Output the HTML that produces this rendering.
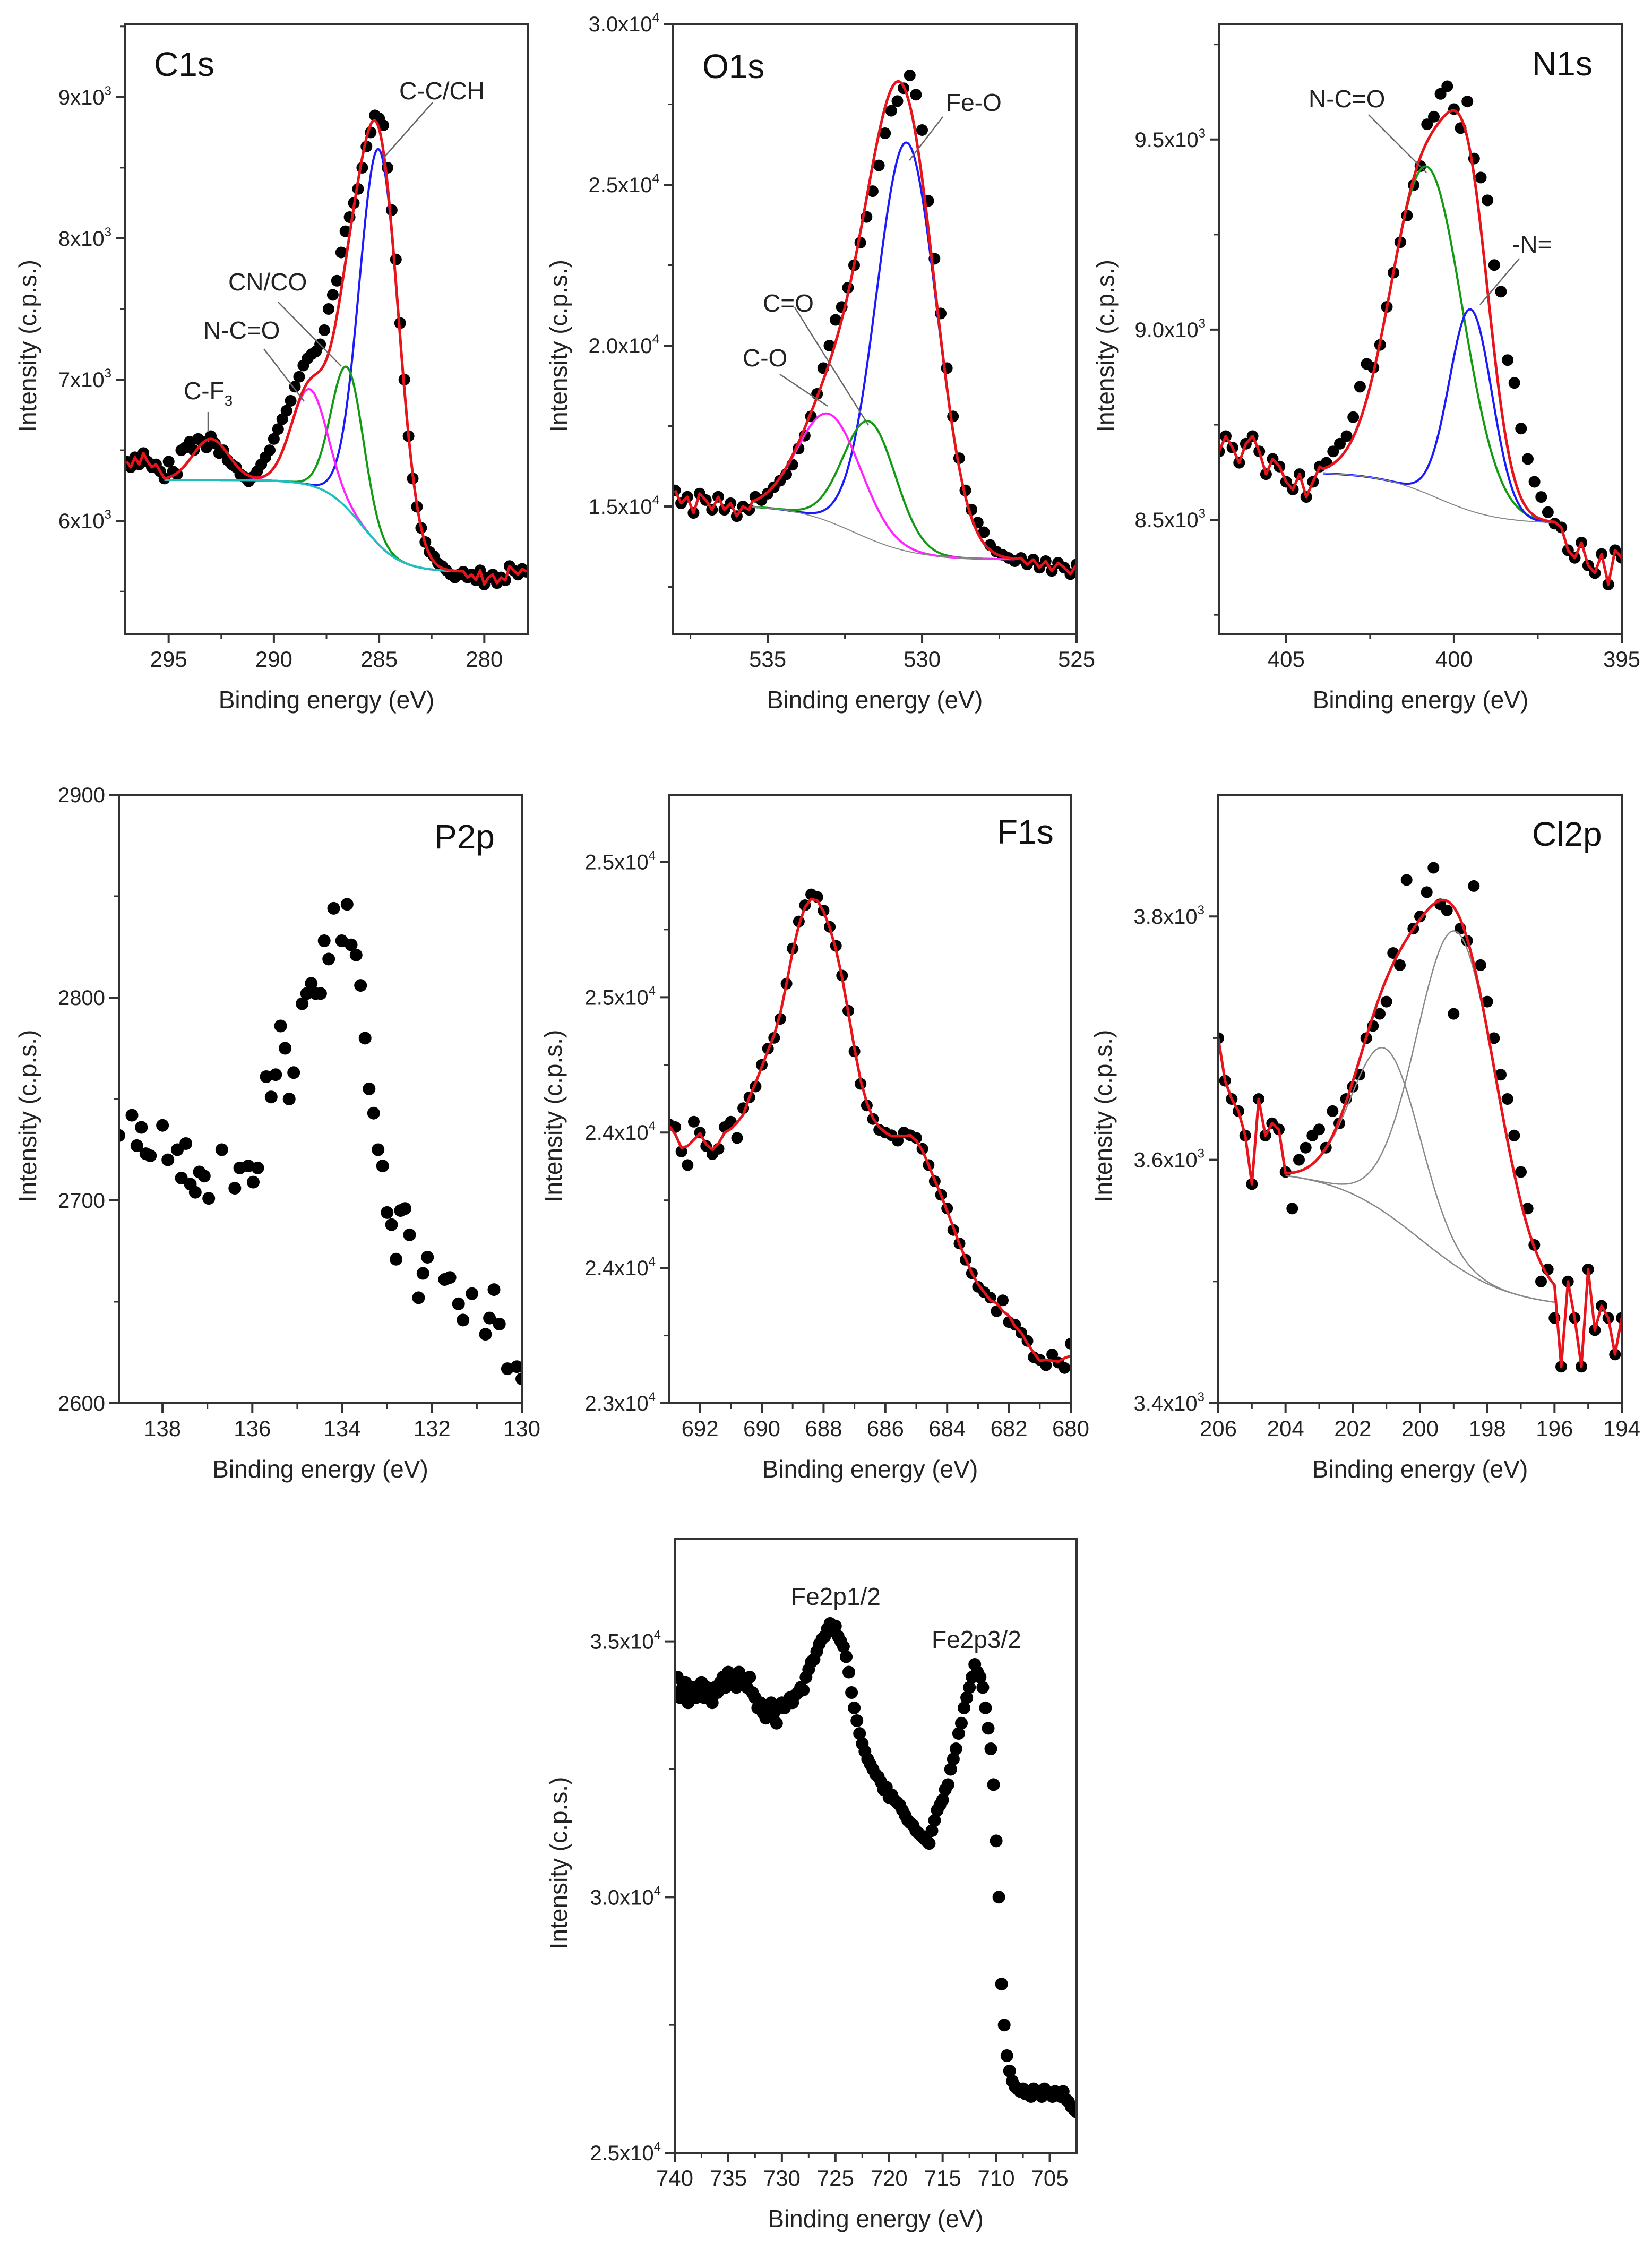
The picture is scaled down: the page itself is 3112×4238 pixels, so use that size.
<!DOCTYPE html>
<html>
<head>
<meta charset="utf-8">
<style>
html,body{margin:0;padding:0;background:#fff;}
svg{display:block;font-family:"Liberation Sans",Arial,sans-serif;}
</style>
</head>
<body>
<svg id="chart" xmlns="http://www.w3.org/2000/svg" width="3112" height="4238" viewBox="0 0 3112 4238">
<rect x="0" y="0" width="3112" height="4238" fill="#fff"/>
</svg>
<script>
// ===================== DATA =====================
// C1s
const c1sStart = 297.0, c1sStep = -0.2;
const c1sCounts = [6420,6380,6450,6400,6480,6420,6380,6400,6350,6300,6420,
6350,6330,6500,6520,6560,6500,6580,6560,6520,6600,
6550,6480,6500,6430,6400,6380,6330,6310,6280,6310,
6350,6400,6450,6500,6580,6650,6720,6780,6850,6950,
7020,7100,7150,7180,7200,7250,7350,7500,7600,7700,
7900,8050,8150,8250,8350,8500,8650,8750,8870,8850,
8800,8500,8200,7850,7400,7000,6600,6300,6100,5950,
5850,5780,5750,5700,5680,5650,5620,5600,5620,5640,
5600,5620,5580,5650,5550,5600,5620,5560,5600,5580,
5680,5650,5620,5660,5640];
const c1sPeakCenters = [285.0, 286.5, 288.3, 293.0];
const c1sPeakHeights = [2800, 1000, 680, 290];
const c1sPeakFwhm = [2.2, 1.8, 2.0, 2.0];
const c1sBackground = [5640, 6290, 285.8, 0.9];
const c1sFitRange = [295.2, 281.0];
const c1sXTicks = [295, 290, 285, 280];
const c1sYTicks = [6000, 7000, 8000, 9000];
const c1sYLabels = ["6x10^3","7x10^3","8x10^3","9x10^3"];

// O1s
const o1sStart = 538.0, o1sStep = -0.2;
const o1sCounts = [15500,15100,15300,14800,15400,15200,14900,15300,14900,15100,14700,
15000,14900,15300,15200,15400,15600,15800,16000,16300,16800,
17200,17800,18500,19300,20000,20800,21200,21800,22500,23200,
24000,24800,25600,26600,27300,27600,28000,28400,27800,26700,
24500,22700,21000,19300,17800,16500,15500,14900,14500,14200,
13800,13600,13500,13400,13300,13400,13200,13350,13100,13300,
13000,13250,13100,12900,13200];
const o1sPeakCenters = [530.5, 531.7, 533.0];
const o1sPeakHeights = [12700, 3650, 3350];
const o1sPeakFwhm = [2.3, 2.0, 2.4];
const o1sBackground = [13350, 15050, 532.2, 1.0];
const o1sFitRange = [535.5, 527.0];
const o1sXTicks = [535, 530, 525];
const o1sYTicks = [15000, 20000, 25000, 30000];
const o1sYLabels = ["1.5x10^4","2.0x10^4","2.5x10^4","3.0x10^4"];

// N1s
const n1sStart = 407.0, n1sStep = -0.2;
const n1sCounts = [8680,8720,8690,8650,8700,8720,8680,8620,8660,8640,8600,
8580,8620,8560,8600,8640,8650,8680,8700,8720,8770,
8850,8910,8900,8960,9060,9150,9230,9300,9380,9430,
9540,9560,9620,9640,9580,9530,9600,9450,9400,9340,
9170,9100,8920,8860,8740,8660,8600,8560,8520,8490,
8480,8420,8400,8440,8380,8360,8410,8330,8420,8400];
const n1sPeakCenters = [400.8, 399.5];
const n1sPeakHeights = [860, 530];
const n1sPeakFwhm = [2.5, 1.5];
const n1sBackground = [8490, 8625, 400.5, 0.9];
const n1sFitRange = [403.9, 397.0];
const n1sXTicks = [405, 400, 395];
const n1sYTicks = [8500, 9000, 9500];
const n1sYLabels = ["8.5x10^3","9.0x10^3","9.5x10^3"];

// P2p
const p2pEnergy = [138.97,138.68,138.57,138.47,138.37,138.27,138.0,137.88,137.67,137.58,137.48,137.38,137.27,137.18,137.07,136.97,136.68,136.39,136.28,136.09,135.98,135.88,135.69,135.58,135.48,135.37,135.27,135.18,135.08,134.89,134.79,134.69,134.59,134.48,134.4,134.3,134.19,134.01,133.89,133.8,133.69,133.59,133.49,133.4,133.3,133.2,133.1,133.0,132.9,132.8,132.7,132.6,132.5,132.3,132.2,132.1,131.72,131.6,131.41,131.31,131.11,130.81,130.72,130.62,130.5,130.32,130.11,130.0];
const p2pCounts = [2732,2742,2727,2736,2723,2722,2737,2720,2725,2711,2728,2708,2704,2714,2712,2701,2725,2706,2716,2717,2709,2716,2761,2751,2762,2786,2775,2750,2763,2797,2802,2807,2802,2802,2828,2819,2844,2828,2846,2826,2821,2806,2780,2755,2743,2725,2717,2694,2688,2671,2695,2696,2683,2652,2664,2672,2661,2662,2649,2641,2654,2634,2642,2656,2639,2617,2618,2612];
const p2pXTicks = [138, 136, 134, 132, 130];
const p2pYTicks = [2600, 2700, 2800, 2900];
const p2pYLabels = ["2600","2700","2800","2900"];

// F1s
const f1sStart = 693.0, f1sStep = -0.2;
const f1sCounts = [24030,24020,23930,23880,24040,24000,23950,23920,23940,24020,24040,
23980,24090,24130,24170,24250,24310,24350,24420,24550,24680,
24780,24840,24880,24870,24820,24760,24690,24580,24450,24300,
24180,24100,24050,24010,24000,23990,23970,24000,23990,23980,
23940,23880,23820,23770,23720,23640,23590,23530,23480,23430,
23410,23390,23340,23380,23300,23290,23260,23230,23170,23160,
23140,23180,23150,23130,23220];
const f1sXTicks = [692, 690, 688, 686, 684, 682, 680];
const f1sYTicks = [23000, 23500, 24000, 24500, 25000];
const f1sYLabels = ["2.3x10^4","2.4x10^4","2.4x10^4","2.5x10^4","2.5x10^4"];

// Cl2p
const cl2pStart = 206.0, cl2pStep = -0.2;
const cl2pCounts = [3700,3665,3650,3640,3620,3580,3650,3620,3630,3625,3590,
3560,3600,3610,3620,3625,3610,3640,3630,3650,3660,
3670,3700,3710,3720,3730,3770,3760,3830,3790,3800,
3820,3840,3810,3805,3720,3790,3780,3825,3760,3730,
3700,3670,3650,3620,3590,3560,3530,3500,3510,3470,
3430,3500,3470,3430,3510,3460,3480,3470,3440,3470];
const cl2pPeakCenters = [201.0, 198.9];
const cl2pPeakHeights = [135, 275];
const cl2pPeakFwhm = [2.4, 2.8];
const cl2pBackground = [3478, 3592, 200.0, 1.3];
const cl2pFitRange = [204.0, 196.0];
const cl2pXTicks = [206, 204, 202, 200, 198, 196, 194];
const cl2pYTicks = [3400, 3600, 3800];
const cl2pYLabels = ["3.4x10^3","3.6x10^3","3.8x10^3"];

// Fe2p
const feStart = 740.0, feStep = -0.25;
const feCounts = [34000,34300,33900,34100,34200,33800,34000,34100,33900,34000,
34200,33900,34100,34000,33800,34100,34000,34200,34300,34100,
34400,34200,34300,34100,34400,34300,34200,34100,34300,34000,
33900,33700,33800,33600,33500,33700,33800,33600,33400,33700,33800,
33700,33800,33900,33800,33950,34000,34100,34050,34300,34450,
34600,34650,34800,34950,35050,35100,35250,35350,35200,35300,
35100,35000,34900,34700,34400,34000,33700,33450,33200,33000,
32850,32700,32600,32500,32400,32350,32250,32100,32150,31950,
32000,31900,31850,31800,31700,31600,31500,31450,31400,31300,
31250,31200,31150,31100,31050,31300,31500,31700,31800,31900,
32100,32200,32500,32700,32900,33200,33400,33700,33900,34100,
34300,34550,34400,34300,34100,33700,33300,32900,32200,31100,
30000,28300,27500,26900,26600,26400,26300,26250,26200,26250,
26150,26200,26100,26250,26150,26200,26100,26250,26200,26150,
26100,26200,26150,26100,26200,26050,26000,25900,25850,25800];
const feXTicks = [740, 735, 730, 725, 720, 715, 710, 705];
const feYTicks = [25000, 30000, 35000];
const feYLabels = ["2.5x10^4","3.0x10^4","3.5x10^4"];

// ===================== DRAWING =====================
const NS = 'http://www.w3.org/2000/svg';
const svg = document.getElementById('chart');
function mk(tag, parent) { const e = document.createElementNS(NS, tag); parent.appendChild(e); return e; }
function gauss(x, c, h, f) { return h * Math.exp(-4 * Math.LN2 * (x - c) * (x - c) / (f * f)); }
function sigBg(x, p) { return p[0] + (p[1] - p[0]) / (1 + Math.exp(-(x - p[2]) / p[3])); }
function energies(start, step, n) { const a = []; for (let i = 0; i < n; i++) a.push(+(start + step * i).toFixed(3)); return a; }

let clipId = 0;
function makePanel(cfg) {
  const g = mk('g', svg);
  
  
  const [l, r, t, b] = cfg.box;
  const sx = x => l + (cfg.xr[0] - x) / (cfg.xr[0] - cfg.xr[1]) * (r - l);
  const sy = y => b - (y - cfg.yr[0]) / (cfg.yr[1] - cfg.yr[0]) * (b - t);
  const cp = mk('clipPath', g); cp.setAttribute('id', 'clip' + (++clipId));
  const cr = mk('rect', cp); cr.setAttribute('x', l); cr.setAttribute('y', t); cr.setAttribute('width', r - l); cr.setAttribute('height', b - t);
  const plot = mk('g', g); plot.setAttribute('clip-path', 'url(#clip' + clipId + ')');
  
  
  const ax = mk('g', g);
  
  
  function line(x1, y1, x2, y2, col, w, parent) {
    const ln = mk('line', parent); ln.setAttribute('x1', x1); ln.setAttribute('y1', y1); ln.setAttribute('x2', x2); ln.setAttribute('y2', y2);
    ln.setAttribute('stroke', col); ln.setAttribute('stroke-width', w); return ln;
  }
  const xt = cfg.xTicks, xs = xt[1] - xt[0];
  for (let i = 0; i < xt.length; i++) {
    const X = sx(xt[i]);
    const tk = line(X, b, X, b + 18, '#333', 4, ax);
    
    
    const tx = mk('text', ax); tx.setAttribute('x', X); tx.setAttribute('y', b + 62); tx.setAttribute('font-size', 42); tx.setAttribute('text-anchor', 'middle'); tx.setAttribute('fill', '#222');
    tx.textContent = xt[i];
    
    
  }
  for (let i = -1; i < xt.length; i++) {
    const v = xt[0] + xs * (i + 0.5);
    const lo = Math.min(cfg.xr[0], cfg.xr[1]), hi = Math.max(cfg.xr[0], cfg.xr[1]);
    if (v > lo && v < hi) line(sx(v), b, sx(v), b + 10, '#333', 3, ax);
  }
  const yt = cfg.yTicks, ys = yt[1] - yt[0];
  for (let i = 0; i < yt.length; i++) {
    const Y = sy(yt[i]);
    const tk = line(l - 18, Y, l, Y, '#333', 4, ax);
    
    
    const parts = cfg.yLabels[i].split('^');
    const tx = mk('text', ax); tx.setAttribute('x', l - 26); tx.setAttribute('y', Y + 14); tx.setAttribute('font-size', 40); tx.setAttribute('text-anchor', 'end'); tx.setAttribute('fill', '#222');
    
    
    const t1 = mk('tspan', tx); t1.textContent = parts[0];
    if (parts[1]) { const t2 = mk('tspan', tx); t2.setAttribute('font-size', 24); t2.setAttribute('dy', -18); t2.textContent = parts[1]; }
  }
  for (let i = -1; i < yt.length; i++) {
    const v = yt[0] + ys * (i + 0.5);
    if (v > cfg.yr[0] && v < cfg.yr[1]) line(l - 10, sy(v), l, sy(v), '#333', 3, ax);
  }
  const xtT = mk('text', g); xtT.setAttribute('x', (l + r) / 2); xtT.setAttribute('y', b + 140); xtT.setAttribute('font-size', 46); xtT.setAttribute('text-anchor', 'middle'); xtT.setAttribute('fill', '#222');
  xtT.textContent = 'Binding energy (eV)';
  
  
  const cy = (t + b) / 2 + 32, cx = l - cfg.yTitleOff + 16;
  const ytT = mk('text', g); ytT.setAttribute('x', cx); ytT.setAttribute('y', cy); ytT.setAttribute('font-size', 46); ytT.setAttribute('text-anchor', 'middle'); ytT.setAttribute('fill', '#222');
  ytT.setAttribute('transform', 'rotate(-90 ' + cx + ' ' + cy + ')');
  ytT.textContent = 'Intensity (c.p.s.)';
  
  

  function poly(pts, col, w, nm) {
    const p = mk('polyline', plot);
    p.setAttribute('points', pts.map(q => sx(q[0]).toFixed(1) + ',' + sy(q[1]).toFixed(1)).join(' '));
    p.setAttribute('fill', 'none'); p.setAttribute('stroke', col); p.setAttribute('stroke-width', w); p.setAttribute('stroke-linejoin', 'round');
    
    
    return p;
  }
  const dots = mk('g', plot);
  
  
  for (let i = 0; i < cfg.x.length; i++) {
    const c = mk('circle', dots); c.setAttribute('cx', sx(cfg.x[i]).toFixed(1)); c.setAttribute('cy', sy(cfg.y[i]).toFixed(1)); c.setAttribute('r', cfg.r || 11); c.setAttribute('fill', '#000');
    
    
  }
  if (cfg.fit) {
    const f = cfg.fit, hiE = f.range[0], loE = f.range[1];
    const samples = []; for (let e = hiE; e >= loE - 1e-9; e -= 0.05) samples.push(+e.toFixed(3));
    const bgPts = samples.map(e => [e, sigBg(e, f.bg)]);
    for (let k = 0; k < f.c.length; k++) {
      if (!f.colors[k]) continue;
      poly(samples.map(e => [e, sigBg(e, f.bg) + gauss(e, f.c[k], f.h[k], f.w[k])]), f.colors[k], f.cw || 4, cfg.name + '-component-' + k);
    }
    poly(bgPts, f.bgColor, f.bgW, cfg.name + '-background');
    const env = [];
    for (let i = 0; i < cfg.x.length; i++) if (cfg.x[i] > hiE) env.push([cfg.x[i], cfg.y[i]]);
    samples.forEach(e => { let s = sigBg(e, f.bg); for (let k = 0; k < f.c.length; k++) s += gauss(e, f.c[k], f.h[k], f.w[k]); env.push([e, s]); });
    for (let i = 0; i < cfg.x.length; i++) if (cfg.x[i] < loE) env.push([cfg.x[i], cfg.y[i]]);
    poly(env, '#e8141c', 5, cfg.name + '-fit-envelope');
  }
  if (cfg.smooth) {
    const pts = [];
    for (let i = 0; i < cfg.x.length; i++) {
      const a = Math.max(0, i - 1), z = Math.min(cfg.x.length - 1, i + 1);
      let s = 0; for (let j = a; j <= z; j++) s += cfg.y[j];
      pts.push([cfg.x[i], s / (z - a + 1)]);
    }
    poly(pts, '#e8141c', 5, cfg.name + '-fit-envelope');
  }
  const fr = mk('rect', g); fr.setAttribute('x', l); fr.setAttribute('y', t); fr.setAttribute('width', r - l); fr.setAttribute('height', b - t);
  fr.setAttribute('fill', 'none'); fr.setAttribute('stroke', '#333'); fr.setAttribute('stroke-width', 4);
  
  
  const pl = mk('text', g); pl.setAttribute('x', cfg.label[1]); pl.setAttribute('y', cfg.label[2]); pl.setAttribute('font-size', 64); pl.setAttribute('fill', '#111');
  pl.textContent = cfg.label[0];
  
  
  (cfg.ann || []).forEach(a => {
    const at = mk('text', g); at.setAttribute('x', a[1]); at.setAttribute('y', a[2]); at.setAttribute('font-size', 46); at.setAttribute('fill', '#222');
    
    
    if (a[0] === 'C-F3') { const s1 = mk('tspan', at); s1.textContent = 'C-F'; const s2 = mk('tspan', at); s2.setAttribute('font-size', 28); s2.setAttribute('dy', 12); s2.textContent = '3'; }
    else at.textContent = a[0];
    if (a[3] !== undefined) {
      const ll = line(a[3], a[4], a[5], a[6], '#666', 2.5, g);
      
      
    }
  });
}

makePanel({name:'c1s', box:[236,994,45,1194], xr:[297.06,277.94], yr:[5200,9518],
  xTicks:c1sXTicks, yTicks:c1sYTicks, yLabels:c1sYLabels, yTitleOff:184,
  x:energies(c1sStart,c1sStep,c1sCounts.length), y:c1sCounts,
  fit:{c:c1sPeakCenters,h:c1sPeakHeights,w:c1sPeakFwhm,bg:c1sBackground,range:c1sFitRange,colors:['#1a1aff','#139a13','#ff22ff',null],bgColor:'#1cc0c0',bgW:4},
  label:['C1s',290,143],
  ann:[['C-C/CH',752,187,815,193,722,298],['CN/CO',430,547,524,569,643,690],['N-C=O',383,638,497,657,573,756],['C-F3',346,752,392,776,392,814]]});
makePanel({name:'o1s', box:[1268,2028,45,1194], xr:[538.06,525], yr:[11040,30000],
  xTicks:o1sXTicks, yTicks:o1sYTicks, yLabels:o1sYLabels, yTitleOff:216,
  x:energies(o1sStart,o1sStep,o1sCounts.length), y:o1sCounts,
  fit:{c:o1sPeakCenters,h:o1sPeakHeights,w:o1sPeakFwhm,bg:o1sBackground,range:o1sFitRange,colors:['#1a1aff','#139a13','#ff22ff'],bgColor:'#888',bgW:2},
  label:['O1s',1323,147],
  ann:[['Fe-O',1782,209,1776,220,1713,302],['C=O',1437,587,1497,579,1636,801],['C-O',1399,690,1469,705,1559,765]]});
makePanel({name:'n1s', box:[2297,3055,45,1194], xr:[406.99,395], yr:[8200,9804],
  xTicks:n1sXTicks, yTicks:n1sYTicks, yLabels:n1sYLabels, yTitleOff:215,
  x:energies(n1sStart,n1sStep,n1sCounts.length), y:n1sCounts,
  fit:{c:n1sPeakCenters,h:n1sPeakHeights,w:n1sPeakFwhm,bg:n1sBackground,range:n1sFitRange,colors:['#139a13','#1a1aff'],bgColor:'#888',bgW:2},
  label:['N1s',2886,142],
  ann:[['N-C=O',2465,202,2578,216,2687,325],['-N=',2848,476,2862,487,2788,574]]});
makePanel({name:'p2p', box:[224,983,1497,2643], xr:[138.97,130], yr:[2600,2900],
  xTicks:p2pXTicks, yTicks:p2pYTicks, yLabels:p2pYLabels, yTitleOff:172,
  x:p2pEnergy, y:p2pCounts, r:12,
  label:['P2p',818,1598]});
makePanel({name:'f1s', box:[1261,2017,1497,2643], xr:[692.99,680], yr:[23000,25248],
  xTicks:f1sXTicks, yTicks:f1sYTicks, yLabels:f1sYLabels, yTitleOff:219,
  x:energies(f1sStart,f1sStep,f1sCounts.length), y:f1sCounts, smooth:true,
  label:['F1s',1878,1589]});
makePanel({name:'cl2p', box:[2295,3055,1497,2643], xr:[206,194], yr:[3400,3900],
  xTicks:cl2pXTicks, yTicks:cl2pYTicks, yLabels:cl2pYLabels, yTitleOff:217,
  x:energies(cl2pStart,cl2pStep,cl2pCounts.length), y:cl2pCounts,
  fit:{c:cl2pPeakCenters,h:cl2pPeakHeights,w:cl2pPeakFwhm,bg:cl2pBackground,range:cl2pFitRange,colors:['#888','#888'],cw:2.5,bgColor:'#888',bgW:2.5},
  label:['Cl2p',2886,1593]});
makePanel({name:'fe2p', box:[1271,2028,2899,4055], xr:[740,702.5], yr:[25000,37000],
  xTicks:feXTicks, yTicks:feYTicks, yLabels:feYLabels, yTitleOff:219,
  x:energies(feStart,feStep,feCounts.length), y:feCounts, r:12,
  label:['',0,0],
  ann:[['Fe2p1/2',1490,3023],['Fe2p3/2',1755,3104]]});
</script>
</body>
</html>
